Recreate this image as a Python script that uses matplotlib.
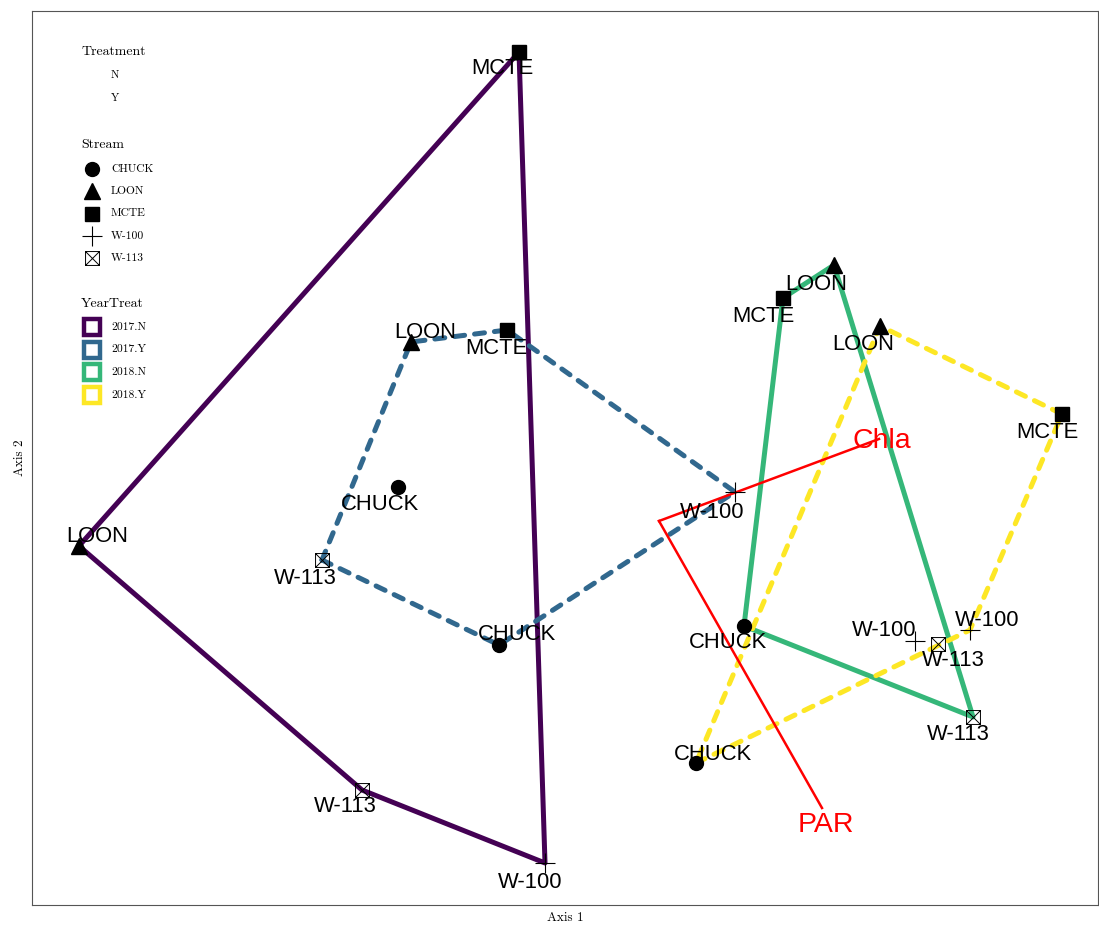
import numpy as np
import matplotlib
matplotlib.use('Agg')
import matplotlib.pyplot as plt
from matplotlib.path import Path
from matplotlib.patches import Rectangle
from matplotlib.lines import Line2D

# NMDS site scores, one row per YearTreat group, streams in a fixed order
streams = ['CHUCK', 'LOON', 'MCTE', 'W-100', 'W-113']
year_treat = ['2017.N', '2017.Y', '2018.N', '2018.Y']
treatment = ['N', 'Y']

axis1 = {
    '2017.N': [-0.522, -1.160, -0.280, -0.228, -0.594],
    '2017.Y': [-0.320, -0.496, -0.304, 0.152, -0.674],
    '2018.N': [0.170, 0.350, 0.248, 0.512, 0.628],
    '2018.Y': [0.074, 0.442, 0.806, 0.622, 0.558],
}
axis2 = {
    '2017.N': [0.068, -0.050, 0.938, -0.684, -0.538],
    '2017.Y': [-0.248, 0.358, 0.382, 0.058, -0.078],
    '2018.N': [-0.210, 0.512, 0.446, -0.240, -0.392],
    '2018.Y': [-0.484, 0.390, 0.214, -0.218, -0.246],
}

# environmental vectors (envfit)
env_names = ['Chla', 'PAR']
env_x = [0.440, 0.326]
env_y = [0.164, -0.574]

# label nudges in pixels (dx right, dy down)
label_nudge = {
    '2017.N': [(-18, 15), (18, -13), (-17, 13), (-15, 16), (-17, 13)],
    '2017.Y': [(18, -13), (14, -13), (-11, 16), (-23, 18), (-17, 15)],
    '2018.N': [(-16, 14), (-18, 17), (-20, 15), (-31, -13), (-15, 15)],
    '2018.Y': [(17, -12), (-17, 16), (-15, 15), (17, -13), (15, 13)],
}
env_nudge = [(3, 2), (4, 17)]
text_drop = 3  # center_baseline correction, px

colors = {'2017.N': '#440154', '2017.Y': '#31688E',
          '2018.N': '#35B779', '2018.Y': '#FDE725'}
dashed = {'2017.N': False, '2017.Y': True, '2018.N': False, '2018.Y': True}

# open square with an X inside
boxx = Path([(-1, -1), (1, -1), (1, 1), (-1, 1), (-1, -1),
             (-1, -1), (1, 1), (-1, 1), (1, -1)],
            [Path.MOVETO, Path.LINETO, Path.LINETO, Path.LINETO, Path.CLOSEPOLY,
             Path.MOVETO, Path.LINETO, Path.MOVETO, Path.LINETO])
markers = {
    'CHUCK': dict(marker='o', ms=10, color='black'),
    'LOON': dict(marker='^', ms=12, color='black'),
    'MCTE': dict(marker='s', ms=9.5, color='black'),
    'W-100': dict(marker='+', ms=15, color='black', mew=0.8),
    'W-113': dict(marker=boxx, ms=10, color='black', mfc='none', mew=0.7),
}


def convex_hull(pts):
    pts = sorted(map(tuple, pts))

    def cross(o, a, b):
        return (a[0] - o[0]) * (b[1] - o[1]) - (a[1] - o[1]) * (b[0] - o[0])

    lower, upper = [], []
    for p in pts:
        while len(lower) >= 2 and cross(lower[-2], lower[-1], p) <= 0:
            lower.pop()
        lower.append(p)
    for p in reversed(pts):
        while len(upper) >= 2 and cross(upper[-2], upper[-1], p) <= 0:
            upper.pop()
        upper.append(p)
    return np.array(lower[:-1] + upper[:-1])


W, H = 1099, 927
fig = plt.figure(figsize=(W / 100, H / 100), dpi=100)
ax = fig.add_axes([32 / W, 1 - 905 / H, 1066 / W, 894 / H])
ax.set_xlim(-1.254, 0.878)
ax.set_ylim(-0.768, 1.02)
ax.set_xticks([])
ax.set_yticks([])
for s in ax.spines.values():
    s.set_color('#555555')
    s.set_linewidth(0.8)

label_font = dict(family='Liberation Sans', size=15.8)
serif = dict(family='cmr10')

# hulls
for yt in year_treat:
    hull = convex_hull(np.column_stack([axis1[yt], axis2[yt]]))
    hull = np.vstack([hull, hull[:1]])
    kw = dict(color=colors[yt], lw=3.6, solid_capstyle='round',
              solid_joinstyle='round', zorder=2)
    if dashed[yt]:
        kw.update(dashes=(2, 2), dash_capstyle='round')
    ax.plot(hull[:, 0], hull[:, 1], **kw)

# points
for yt in year_treat:
    for i, st in enumerate(streams):
        ax.plot(axis1[yt][i], axis2[yt][i], ls='none', zorder=4, **markers[st])

# env vectors
for name, vx, vy, (dx, dy) in zip(env_names, env_x, env_y, env_nudge):
    ax.plot([0, vx], [0, vy], color='red', lw=1.8, zorder=3)
    ax.annotate(name, (vx, vy), xytext=(dx * 0.72, -dy * 0.72),
                textcoords='offset points', ha='center', va='center',
                color='red', family='Liberation Sans', size=20.5, zorder=5)

# point labels
for yt in year_treat:
    for i, st in enumerate(streams):
        dx, dy = label_nudge[yt][i]
        ax.annotate(st, (axis1[yt][i], axis2[yt][i]),
                    xytext=(dx * 0.72, -(dy + text_drop) * 0.72),
                    textcoords='offset points',
                    ha='center', va='center', zorder=5, **label_font)

ax.set_xlabel('Axis 1', fontsize=9.5, labelpad=5, **serif)
ax.set_ylabel('Axis 2', fontsize=9.5, labelpad=4, **serif)


# legends, placed in figure pixels
def fx(px):
    return px / W


def fy(py):
    return 1 - py / H


fig.text(fx(81), fy(52), 'Treatment', fontsize=10, va='center', **serif)
for k, t in enumerate(treatment):
    fig.text(fx(111), fy(75 + 23 * k), t, fontsize=8, va='center', **serif)

fig.text(fx(81), fy(145), 'Stream', fontsize=10, va='center', **serif)
for k, st in enumerate(streams):
    y = 169 + 22.3 * k
    fig.add_artist(Line2D([fx(92)], [fy(y)], ls='none', transform=fig.transFigure,
                          **markers[st]))
    fig.text(fx(111), fy(y), st, fontsize=8.3, va='center', **serif)

fig.text(fx(81), fy(304), 'YearTreat', fontsize=10, va='center', **serif)
for k, yt in enumerate(year_treat):
    y = 327 + 22.6 * k
    fig.add_artist(Rectangle((fx(84), fy(y + 8)), 16 / W, 16 / H, fill=False,
                             edgecolor=colors[yt], lw=3.2,
                             transform=fig.transFigure))
    fig.text(fx(111), fy(y), yt, fontsize=8.3, va='center', **serif)

fig.savefig('out.png', dpi=100)
